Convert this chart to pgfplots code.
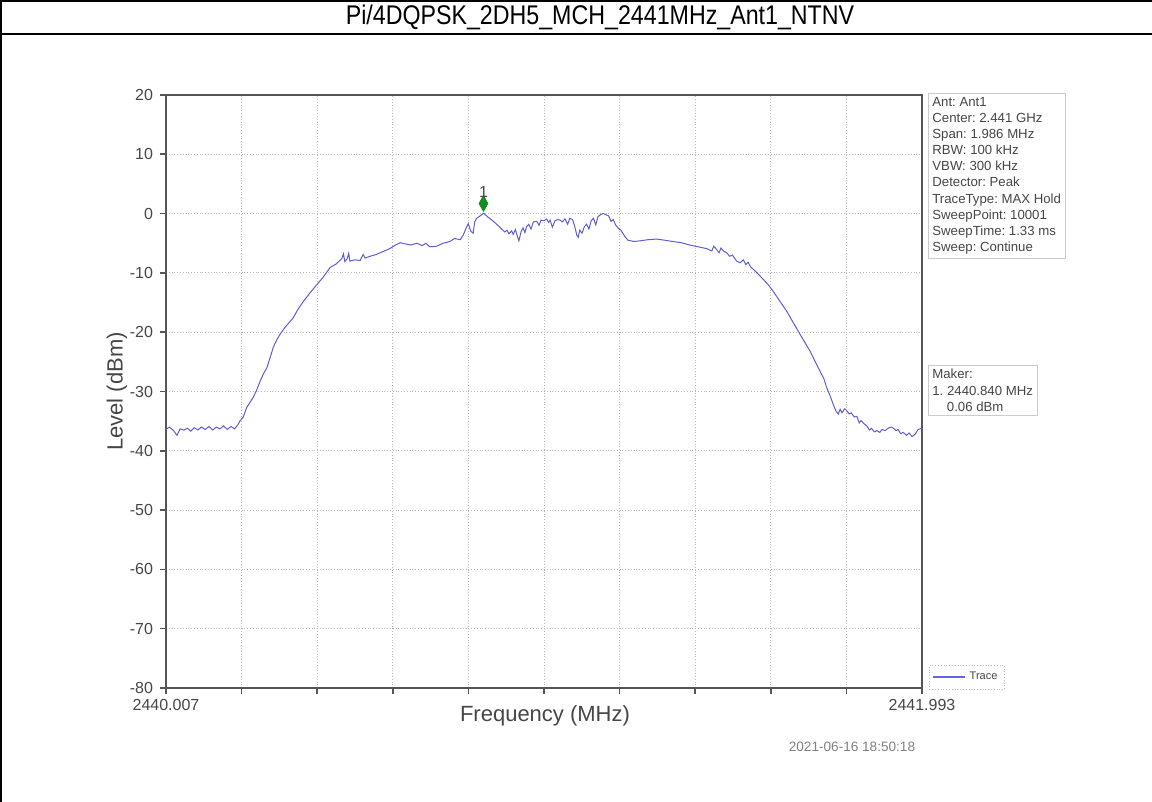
\documentclass[border=0pt]{standalone}
\usepackage{pgfplots}
\pgfplotsset{compat=1.18}
\usepackage{fontspec}
\setmainfont{Liberation Sans}
\usetikzlibrary{plotmarks}
\frenchspacing
\definecolor{tracecol}{RGB}{52,52,205}
\definecolor{legcol}{RGB}{100,100,230}
\definecolor{mkgreen}{RGB}{20,140,30}
\definecolor{axgray}{RGB}{85,85,85}
\definecolor{txtgray}{RGB}{70,70,70}

\begin{document}
\begin{tikzpicture}
\useasboundingbox (0,0) rectangle (576pt,401pt);
% frame and title band
\draw[line width=0.8pt] (0.4pt,0) -- (0.4pt,400.6pt) -- (576pt,400.6pt);
\draw[line width=0.8pt] (0.4pt,384pt) -- (576pt,384pt);
\node at (300pt,392.3pt) {\scalebox{0.86}[1]{\fontsize{13.5}{14}\selectfont Pi/4DQPSK\_2DH5\_MCH\_2441MHz\_Ant1\_NTNV}};

\begin{axis}[
    at={(83pt,57pt)}, anchor=south west,
    scale only axis,
    width=378pt, height=296.5pt,
    xmin=2440.007, xmax=2441.993,
    ymin=-80, ymax=20,
    xtick={2440.007,2440.2056,2440.4042,2440.6028,2440.8014,2441.000,2441.1986,2441.3972,2441.5958,2441.7944,2441.993},
    xticklabels={2440.007,,,,,,,,,,2441.993},
    ytick={-80,-70,...,20},
    xtick pos=bottom, ytick pos=left,
    grid=major,
    grid style={densely dotted, gray!55},
    axis line style={line width=1.3pt, axgray},
    tick style={line width=0.8pt, axgray},
    tick align=outside,
    major tick length=3pt,
    tick label style={font=\fontsize{8}{9}\selectfont, text=txtgray},
    /pgf/number format/assume math mode=true,
    xticklabel style={yshift=1pt},
    ylabel={Level (dBm)},
    ylabel style={font=\fontsize{11}{12}\selectfont, text=txtgray, at={(-0.042,0.5)}},
    legend style={at={(1,0)}, anchor=south west, xshift=3.5pt, yshift=-1pt,
        draw=gray!50, densely dotted, font=\fontsize{5.5}{6}\selectfont, text=txtgray,
        inner sep=1.5pt, legend cell align=left},
    legend image code/.code={\draw[legcol, solid, line width=1pt] (0cm,0cm) -- (0.55cm,0cm);},
]
\addplot[tracecol!80!white, line width=0.5pt] table {
2440.007 -36.4
2440.016 -36.0
2440.027 -36.6
2440.036 -37.4
2440.044 -36.3
2440.054 -36.5
2440.063 -36.2
2440.072 -36.7
2440.081 -36.1
2440.091 -36.5
2440.100 -36.0
2440.110 -36.4
2440.120 -35.9
2440.130 -36.5
2440.139 -36.0
2440.149 -36.3
2440.158 -35.8
2440.168 -36.4
2440.178 -35.9
2440.187 -36.3
2440.196 -35.6
2440.201 -35.0
2440.210 -34.3
2440.219 -32.7
2440.228 -31.8
2440.236 -31.0
2440.245 -29.8
2440.254 -28.3
2440.263 -27.0
2440.272 -26.0
2440.281 -24.2
2440.289 -22.5
2440.298 -21.3
2440.306 -20.4
2440.322 -19.0
2440.341 -17.6
2440.354 -16.1
2440.368 -14.8
2440.385 -13.4
2440.403 -12.0
2440.419 -10.8
2440.438 -9.1
2440.454 -8.5
2440.462 -8.0
2440.469 -7.6
2440.473 -6.8
2440.477 -8.1
2440.483 -7.6
2440.487 -6.7
2440.490 -8.0
2440.503 -7.8
2440.517 -7.9
2440.525 -6.9
2440.530 -7.5
2440.543 -7.2
2440.559 -6.9
2440.577 -6.4
2440.595 -5.9
2440.610 -5.3
2440.622 -4.9
2440.635 -5.1
2440.650 -5.3
2440.666 -5.0
2440.680 -5.4
2440.690 -5.0
2440.700 -5.6
2440.718 -5.5
2440.735 -5.0
2440.753 -4.7
2440.765 -4.2
2440.780 -4.4
2440.788 -3.6
2440.795 -2.5
2440.801 -1.7
2440.808 -3.0
2440.814 -3.3
2440.818 -1.4
2440.823 -0.8
2440.832 -0.4
2440.841 0.06
2440.853 -0.6
2440.867 -1.3
2440.884 -2.3
2440.897 -3.1
2440.903 -2.8
2440.908 -3.4
2440.915 -2.9
2440.919 -3.5
2440.925 -2.7
2440.929 -3.6
2440.934 -4.6
2440.940 -3.0
2440.945 -2.4
2440.950 -3.2
2440.954 -2.2
2440.960 -1.8
2440.966 -2.6
2440.972 -1.4
2440.981 -1.3
2440.987 -2.0
2440.992 -1.1
2441.000 -1.2
2441.007 -0.9
2441.012 -1.5
2441.016 -1.1
2441.022 -2.3
2441.029 -1.2
2441.036 -1.0
2441.042 -1.1
2441.048 -1.4
2441.055 -0.9
2441.062 -1.8
2441.068 -0.8
2441.075 -1.0
2441.081 -2.2
2441.086 -3.6
2441.090 -4.0
2441.094 -2.8
2441.100 -3.3
2441.106 -2.2
2441.112 -1.8
2441.118 -2.6
2441.124 -1.2
2441.130 -0.8
2441.136 -1.9
2441.142 -0.5
2441.150 -0.1
2441.156 0.0
2441.163 -0.2
2441.170 -0.4
2441.176 -1.3
2441.182 -1.0
2441.188 -1.9
2441.197 -2.6
2441.202 -2.8
2441.208 -3.4
2441.214 -4.0
2441.221 -4.5
2441.236 -4.7
2441.252 -4.6
2441.273 -4.4
2441.296 -4.3
2441.318 -4.5
2441.338 -4.7
2441.360 -4.9
2441.383 -5.3
2441.405 -5.6
2441.427 -5.9
2441.441 -6.3
2441.446 -5.5
2441.454 -6.1
2441.460 -6.6
2441.465 -5.8
2441.471 -6.3
2441.480 -6.6
2441.488 -7.2
2441.495 -7.0
2441.506 -8.0
2441.515 -8.3
2441.524 -7.8
2441.530 -8.6
2441.536 -8.2
2441.543 -9.0
2441.550 -9.4
2441.563 -10.2
2441.576 -11.1
2441.589 -12.0
2441.602 -13.1
2441.620 -14.8
2441.638 -16.5
2441.654 -18.3
2441.673 -20.4
2441.686 -21.8
2441.699 -23.2
2441.712 -24.9
2441.725 -26.6
2441.735 -27.8
2441.743 -29.4
2441.752 -30.8
2441.760 -32.2
2441.767 -33.3
2441.773 -33.8
2441.778 -33.0
2441.783 -33.6
2441.790 -32.9
2441.796 -33.3
2441.802 -33.8
2441.807 -33.6
2441.815 -34.3
2441.822 -34.2
2441.828 -35.3
2441.833 -34.9
2441.840 -35.4
2441.848 -35.8
2441.855 -36.5
2441.860 -36.2
2441.868 -36.8
2441.875 -36.6
2441.882 -36.9
2441.888 -36.4
2441.896 -36.6
2441.904 -36.2
2441.912 -36.0
2441.918 -36.2
2441.925 -36.6
2441.930 -36.4
2441.937 -37.1
2441.944 -36.9
2441.952 -37.4
2441.959 -37.0
2441.967 -37.6
2441.975 -37.2
2441.983 -36.4
2441.993 -36.2
};
\addlegendentry{Trace}
\addplot[only marks, mark=diamond*, mark size=3.9pt, mkgreen,
    mark options={xscale=0.75},
    nodes near coords={1},
    nodes near coords style={anchor=south, font=\fontsize{8}{9}\selectfont, text=txtgray, inner sep=0.5pt, yshift=2.5pt},
    forget plot] coordinates {(2440.841,1.7)};
\end{axis}

% x label and date
\node[font=\fontsize{11}{12}\selectfont, text=txtgray] at (272.5pt,43pt) {Frequency (MHz)};
\node[font=\fontsize{6.8}{7}\selectfont, text=gray] at (426pt,27.5pt) {2021-06-16 18:50:18};

% info boxes
\node[anchor=north west, draw=gray!40, align=left, inner xsep=2pt, inner ysep=2pt,
      font=\fontsize{6.6}{8.05}\selectfont, text=txtgray] at (464pt,354.5pt)
  {Ant: Ant1\\Center: 2.441 GHz\\Span: 1.986 MHz\\RBW: 100 kHz\\VBW: 300 kHz\\Detector: Peak\\TraceType: MAX Hold\\SweepPoint: 10001\\SweepTime: 1.33 ms\\Sweep: Continue};
\node[anchor=north west, draw=gray!40, align=left, inner xsep=2pt, inner ysep=2pt,
      font=\fontsize{6.6}{8.05}\selectfont, text=txtgray] at (464pt,218.5pt)
  {Maker:\\1. 2440.840 MHz\\\hspace{1.1em}0.06 dBm};
\end{tikzpicture}
\end{document}
